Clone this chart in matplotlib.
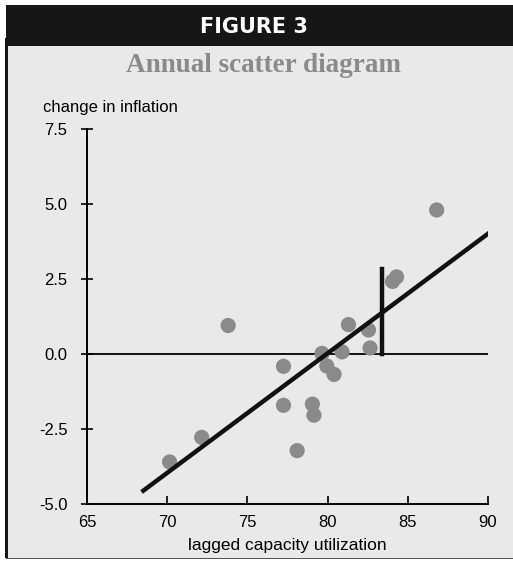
import matplotlib.pyplot as plt
from matplotlib.patches import Rectangle

# lagged capacity utilization vs change in inflation (annual)
util = [86.8, 84.3, 84.05, 73.8, 81.3, 82.55, 82.65, 79.65, 80.9, 79.95,
        80.4, 77.25, 77.25, 79.05, 79.15, 78.1, 72.15, 70.15]
infl = [4.8, 2.57, 2.42, 0.95, 0.98, 0.8, 0.2, 0.02, 0.07, -0.4,
        -0.68, -0.41, -1.71, -1.67, -2.04, -3.22, -2.78, -3.6]

fit_x = [68.4, 90.1]
fit_y = [-4.6, 4.05]
zero_x = [65, 90.2]
gap_x = 83.4
gap_top = 2.85

xticks = [65, 70, 75, 80, 85, 90]
yticks = [-5.0, -2.5, 0.0, 2.5, 5.0, 7.5]

W, H = 513, 563
fig = plt.figure(figsize=(W / 100, H / 100), dpi=100)
fig.patch.set_facecolor("white")

# panel, header bar and frame lines
def box(x, y, w, h, color):
    fig.patches.append(Rectangle((x / W, 1 - (y + h) / H), w / W, h / H,
                                 transform=fig.transFigure, facecolor=color,
                                 edgecolor="none", zorder=-5))

box(6, 46, 507, 512, "#e9e9e9")
box(6, 5, 507, 41, "#161616")
box(5, 38, 3, 520, "#161616")
box(6, 557.5, 507, 1.5, "#555555")

fig.text(254 / W, 1 - 27 / H, "FIGURE 3", color="white", fontsize=15,
         fontweight="bold", ha="center", va="center", family="DejaVu Sans")
fig.text(264 / W, 1 - 66 / H, "Annual scatter diagram", color="#8a8a8a",
         fontsize=19.5, fontweight="bold", ha="center", va="center",
         family="Liberation Serif")
fig.text(43 / W, 1 - 108 / H, "change in inflation", fontsize=12,
         ha="left", va="center", family="Liberation Sans")

ax = fig.add_axes([87 / W, 1 - 504 / H, 401 / W, 375 / H])
ax.set_facecolor("none")

ax.plot(zero_x, [0, 0], color="black", lw=1.3, zorder=2)
ax.scatter(util, infl, s=120, color="#8a8a8a", edgecolors="none", zorder=3)
ax.plot(fit_x, fit_y, color="#111111", lw=3.2, solid_capstyle="butt", zorder=4)
ax.plot([gap_x, gap_x], [0, gap_top], color="#111111", lw=3.2, zorder=4)

ax.set_xlim(65, 90)
ax.set_ylim(-5, 7.5)
ax.set_xticks(xticks)
ax.set_yticks(yticks)
ax.set_xticklabels([str(t) for t in xticks], family="Liberation Sans", fontsize=12)
ax.set_yticklabels(["%.1f" % t for t in yticks], family="Liberation Sans", fontsize=12)
ax.tick_params(axis="x", direction="in", length=6, width=1.2, pad=8)
ax.tick_params(axis="y", direction="inout", length=8, width=1.2, pad=10)
ax.set_xlabel("lagged capacity utilization", family="Liberation Sans",
              fontsize=12.5, labelpad=6)

for side in ["top", "right"]:
    ax.spines[side].set_visible(False)
for side in ["left", "bottom"]:
    ax.spines[side].set_linewidth(1.4)

fig.savefig("out.png", dpi=100)
